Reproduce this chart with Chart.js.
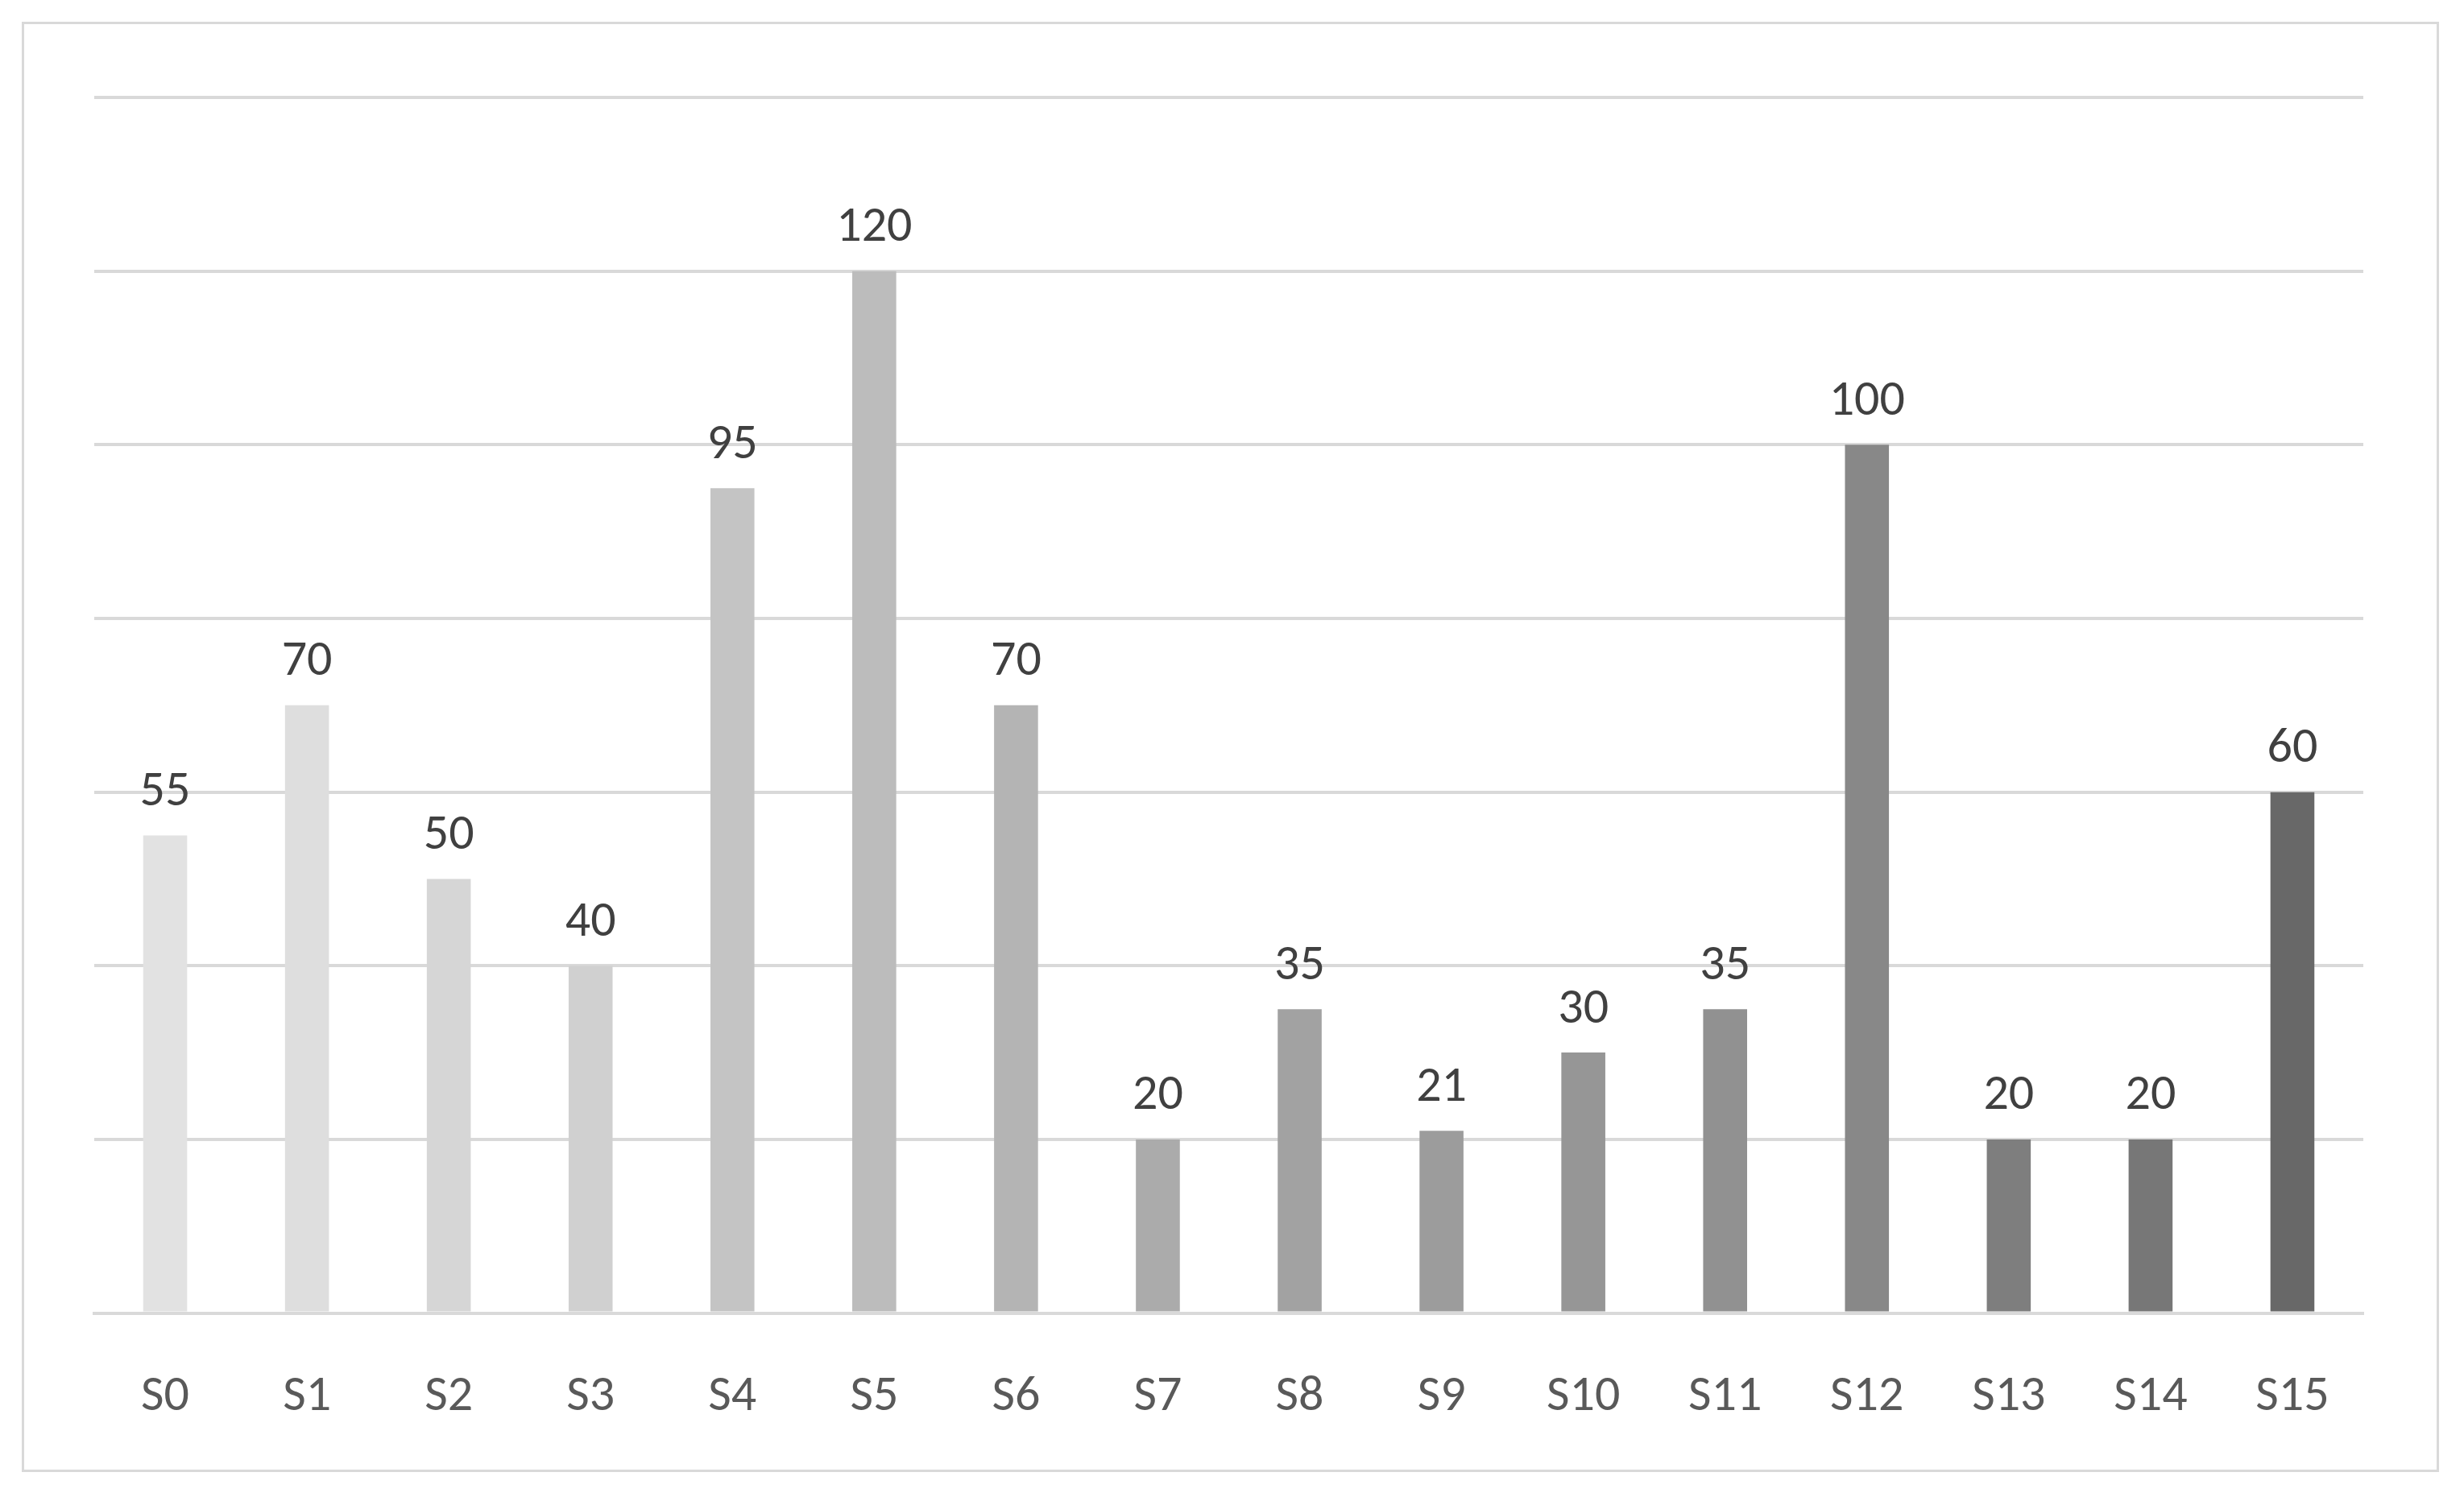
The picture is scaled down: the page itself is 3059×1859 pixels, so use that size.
<!DOCTYPE html><html><head><meta charset="utf-8">
<script src="https://cdn.jsdelivr.net/npm/chart.js@4"></script>
<style>html,body{margin:0;background:#fff}#w{width:3059px;height:1859px;position:relative}
#b{position:absolute;left:27px;top:27px;width:3001px;height:1801px;border:3px solid #d9d9d9;box-sizing:border-box}</style>
</head><body><div id="w"><div id="b"></div><canvas id="c" width="3059" height="1859"></canvas></div>
<script>
const categories=["S0","S1","S2","S3","S4","S5","S6","S7","S8","S9","S10","S11","S12","S13","S14","S15"];
const values=[55,70,50,40,95,120,70,20,35,21,30,35,100,20,20,60];
const barColors=["#e2e2e2","#dedede","#d6d6d6","#d0d0d0","#c4c4c4","#bcbcbc","#b4b4b4","#ababab","#a2a2a2","#9c9c9c","#969696","#919191","#888888","#7e7e7e","#777777","#686868"];
const labelPlugin={id:'lbl',afterDatasetsDraw(ch){const ctx=ch.ctx;const m=ch.getDatasetMeta(0);ctx.save();ctx.font='62px Calibri, "Open Sans", "Liberation Sans", sans-serif';ctx.fillStyle='#404040';ctx.textAlign='center';ctx.textBaseline='bottom';
m.data.forEach((el,i)=>{ctx.fillText(String(values[i]),el.x,el.y-22);});ctx.restore();}};
new Chart(document.getElementById('c'),{type:'bar',data:{labels:categories,datasets:[{data:values,backgroundColor:barColors,categoryPercentage:1,barPercentage:0.31}]},
options:{responsive:false,animation:false,layout:{padding:{left:117,right:125,top:121,bottom:26}},
plugins:{legend:{display:false},tooltip:{enabled:false}},
scales:{y:{min:0,max:140,ticks:{display:false,stepSize:20},border:{display:false},grid:{color:'#d9d9d9',lineWidth:4,drawTicks:false}},
x:{grid:{display:false},border:{color:'#d9d9d9',width:4},ticks:{padding:60,color:'#595959',font:{size:62,family:'Calibri, "Open Sans", "Liberation Sans", sans-serif'}}}}},
plugins:[labelPlugin]});
</script></body></html>
